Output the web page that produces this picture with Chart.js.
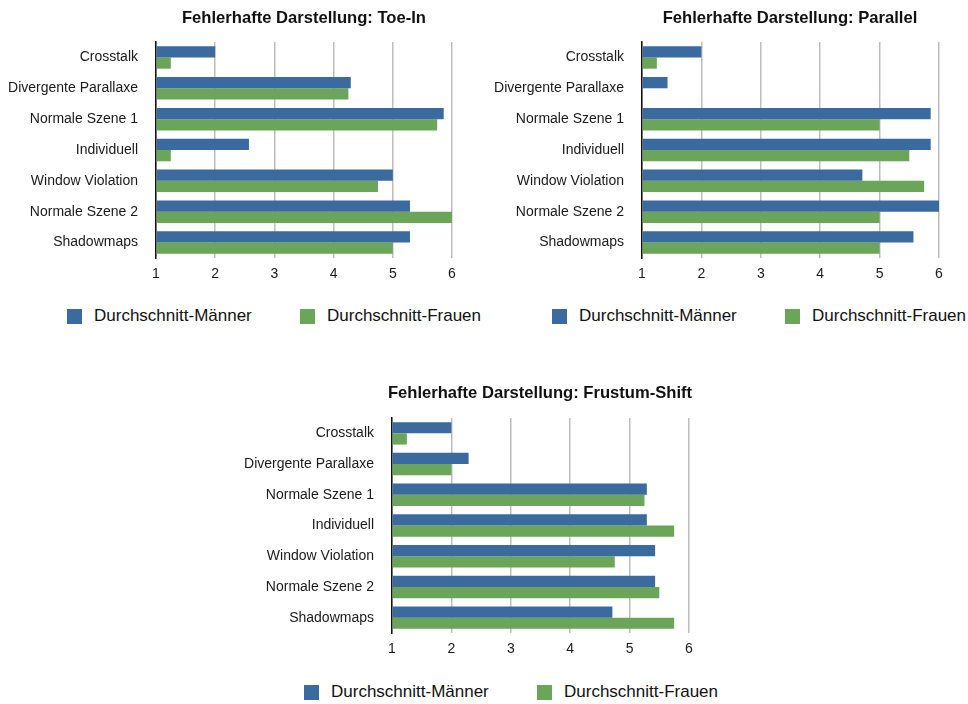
<!DOCTYPE html>
<html lang="de">
<head>
<meta charset="utf-8">
<title>Fehlerhafte Darstellung</title>
<script src="https://cdn.jsdelivr.net/npm/chart.js@4.4.1/dist/chart.umd.min.js"></script>
<style>
  body { margin: 0; background: #fff; font-family: "Liberation Sans", Arial, Helvetica, sans-serif; color: #111; }
  #page { position: relative; width: 968px; height: 704px; overflow: hidden; }
  canvas { position: absolute; }
  .title { position: absolute; width: 400px; height: 20px; line-height: 20px; text-align: center; font-size: 16.6px; font-weight: bold; }
  .legend { position: absolute; display: flex; height: 20px; line-height: 20px; font-size: 17px; }
  .legend .item { display: flex; align-items: center; width: 233px; white-space: nowrap; }
  .legend .box { width: 15px; height: 15px; margin-right: 12px; flex: none; }
</style>
</head>
<body>
<div id="page">
  <canvas id="toeInChart" width="470" height="274" style="left:0; top:14px;"></canvas>
  <canvas id="parallelChart" width="470" height="274" style="left:484px; top:14px;"></canvas>
  <canvas id="frustumChart" width="480" height="273" style="left:230px; top:390px;"></canvas>

  <div class="title" style="left:104px; top:8px;">Fehlerhafte Darstellung: Toe-In</div>
  <div class="title" style="left:590px; top:8px;">Fehlerhafte Darstellung: Parallel</div>
  <div class="title" style="left:340px; top:383px;">Fehlerhafte Darstellung: Frustum-Shift</div>

  <div class="legend" id="legendToeIn" style="left:67px; top:306px;"></div>
  <div class="legend" id="legendParallel" style="left:552px; top:306px;"></div>
  <div class="legend" id="legendFrustum" style="left:304px; top:682px;"></div>
</div>

<script>
const categories = ['Crosstalk', 'Divergente Parallaxe', 'Normale Szene 1', 'Individuell', 'Window Violation', 'Normale Szene 2', 'Shadowmaps'];
const seriesNames = ['Durchschnitt-Männer', 'Durchschnitt-Frauen'];
const seriesColors = ['#3a6a9e', '#6aa55a'];
const xTicks = [1, 2, 3, 4, 5, 6];

const toeInMen = [2.0, 4.29, 5.86, 2.57, 5.0, 5.29, 5.29];
const toeInWomen = [1.25, 4.25, 5.75, 1.25, 4.75, 6.0, 5.0];
const parallelMen = [2.0, 1.43, 5.86, 5.86, 4.71, 6.0, 5.57];
const parallelWomen = [1.25, 1.0, 5.0, 5.5, 5.75, 5.0, 5.0];
const frustumMen = [2.0, 2.29, 5.29, 5.29, 5.43, 5.43, 4.71];
const frustumWomen = [1.25, 2.0, 5.25, 5.75, 4.75, 5.5, 5.75];

Chart.defaults.font.family = '"Liberation Sans", Arial, Helvetica, sans-serif';
Chart.defaults.color = '#1a1a1a';

// yAxisWidth places the left edge of the plot, padRight its right edge
function makeChart(id, men, women, yAxisWidth, padRight) {
    new Chart(document.getElementById(id), {
        type: 'bar',
        data: {
            labels: categories,
            datasets: [
                { label: seriesNames[0], data: men, backgroundColor: seriesColors[0], base: xTicks[0] },
                { label: seriesNames[1], data: women, backgroundColor: seriesColors[1], base: xTicks[0] }
            ]
        },
        options: {
            indexAxis: 'y',
            responsive: false,
            animation: false,
            layout: { padding: { top: 28, right: padRight, left: 0, bottom: 0 } },
            datasets: { bar: { categoryPercentage: 0.73, barPercentage: 1 } },
            plugins: {
                legend: { display: false },
                title: { display: false },
                tooltip: { enabled: false }
            },
            scales: {
                x: {
                    min: xTicks[0],
                    max: xTicks[xTicks.length - 1],
                    ticks: { stepSize: 1, padding: 8, font: { size: 14 } },
                    grid: { color: '#bdbdbd', lineWidth: 1.5, drawTicks: false },
                    border: { display: false },
                    afterFit: (scale) => { scale.height = 30; }
                },
                y: {
                    ticks: { padding: 18, font: { size: 14 } },
                    grid: { display: false, drawTicks: false },
                    border: { color: '#111', width: 1.5 },
                    afterFit: (scale) => { scale.width = yAxisWidth; }
                }
            }
        }
    });
}

function makeLegend(id) {
    const el = document.getElementById(id);
    seriesNames.forEach((name, i) => {
        const item = document.createElement('div');
        item.className = 'item';
        const box = document.createElement('span');
        box.className = 'box';
        box.style.background = seriesColors[i];
        const text = document.createElement('span');
        text.textContent = name;
        item.appendChild(box);
        item.appendChild(text);
        el.appendChild(item);
    });
}

makeChart('toeInChart', toeInMen, toeInWomen, 156, 18);
makeChart('parallelChart', parallelMen, parallelWomen, 158, 15);
makeChart('frustumChart', frustumMen, frustumWomen, 162, 21);

makeLegend('legendToeIn');
makeLegend('legendParallel');
makeLegend('legendFrustum');
</script>
</body>
</html>
